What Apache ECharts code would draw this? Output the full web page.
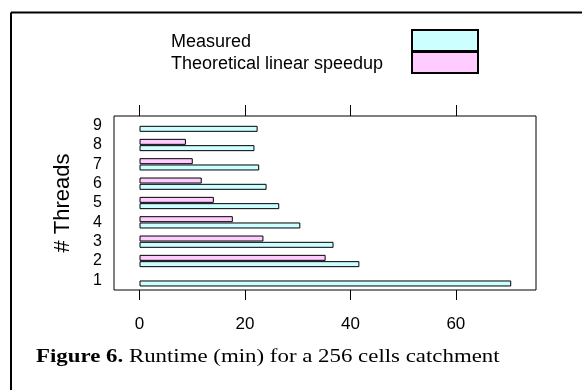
<!DOCTYPE html>
<html>
<head>
<meta charset="utf-8">
<script src="https://cdn.jsdelivr.net/npm/echarts@6/dist/echarts.min.js"></script>
<style>
  html, body { margin: 0; padding: 0; background: #fff; }
  #chart { width: 582px; height: 390px; }
</style>
</head>
<body>
<div id="chart"></div>
<script>
// number of threads (categories, bottom to top)
const threads = ['1', '2', '3', '4', '5', '6', '7', '8', '9'];
// runtime in minutes
const measured = [70.5, 41.7, 36.8, 30.5, 26.5, 24.1, 22.7, 21.8, 22.4];
const theoretical = ['-', 35.3, 23.5, 17.7, 14.1, 11.8, 10.1, 8.8, '-'];
const xTicks = [0, 20, 40, 60];

const chart = echarts.init(document.getElementById('chart'));

const sans = 'Liberation Sans, Arial, sans-serif';

const option = {
    animation: false,
    textStyle: { fontFamily: sans, color: '#000' },
    legend: {
        orient: 'vertical',
        left: 171,
        top: 29,
        padding: 0,
        align: 'right',
        icon: 'rect',
        itemWidth: 66,
        itemHeight: 21,
        itemGap: -1,
        selectedMode: false,
        data: ['Measured', 'Theoretical linear speedup'],
        formatter: function (name) {
            return '{a|' + name + '}';
        },
        textStyle: {
            fontSize: 18,
            color: '#000',
            rich: {
                a: {
                    width: 236, height: 18, lineHeight: 18, padding: [3, 0, 0, 0],
                    align: 'left', fontSize: 18, fontFamily: sans
                }
            }
        }
    },
    grid: {
        show: true,
        left: 114,
        top: 116,
        width: 422,
        height: 174,
        borderColor: '#000',
        borderWidth: 1,
        backgroundColor: 'transparent'
    },
    xAxis: [
        {
            type: 'value',
            position: 'bottom',
            min: -4.84,
            max: 75.2,
            axisLine: { show: false },
            splitLine: { show: false },
            axisTick: {
                show: true,
                inside: false,
                length: 10,
                customValues: xTicks,
                lineStyle: { color: '#000' }
            },
            axisLabel: {
                customValues: xTicks,
                fontSize: 17,
                color: '#000',
                margin: 26
            }
        },
        {
            type: 'value',
            position: 'top',
            min: -4.84,
            max: 75.2,
            axisLine: { show: false },
            splitLine: { show: false },
            axisTick: {
                show: true,
                length: 11,
                customValues: xTicks,
                lineStyle: { color: '#000' }
            },
            axisLabel: { show: false }
        }
    ],
    yAxis: {
        type: 'category',
        data: threads,
        name: '# Threads',
        nameLocation: 'middle',
        nameGap: 40,
        nameTextStyle: { fontSize: 22, color: '#000' },
        axisLine: { show: false },
        axisTick: { show: false },
        splitLine: { show: false },
        axisLabel: { fontSize: 16, color: '#000', margin: 12, interval: 0 }
    },
    series: [
        {
            name: 'Theoretical linear speedup',
            type: 'bar',
            data: theoretical,
            barWidth: 6,
            barGap: '5%',
            itemStyle: { color: '#ffccff', borderColor: '#000', borderWidth: 1 }
        },
        {
            name: 'Measured',
            type: 'bar',
            data: measured,
            barWidth: 6,
            barGap: '5%',
            itemStyle: { color: '#ccffff', borderColor: '#000', borderWidth: 1 }
        }
    ],
    graphic: [
        {
            type: 'line',
            shape: { x1: 11, y1: 12.5, x2: 582, y2: 12.5 },
            style: { stroke: '#000', lineWidth: 2 }
        },
        {
            type: 'line',
            shape: { x1: 11, y1: 12.5, x2: 11, y2: 390 },
            style: { stroke: '#000', lineWidth: 2 }
        },
        {
            // caption, widened to match the stretched figure
            type: 'text',
            x: 36,
            y: 357,
            scaleX: 1.27,
            style: {
                text: '{b|Figure 6.} Runtime (min) for a 256 cells catchment',
                font: '18px "Liberation Serif", "Times New Roman", serif',
                fill: '#000',
                verticalAlign: 'middle',
                rich: {
                    b: { fontWeight: 'bold', fontSize: 18, fontFamily: 'Liberation Serif' }
                }
            }
        }
    ]
};

chart.setOption(option);
</script>
</body>
</html>
